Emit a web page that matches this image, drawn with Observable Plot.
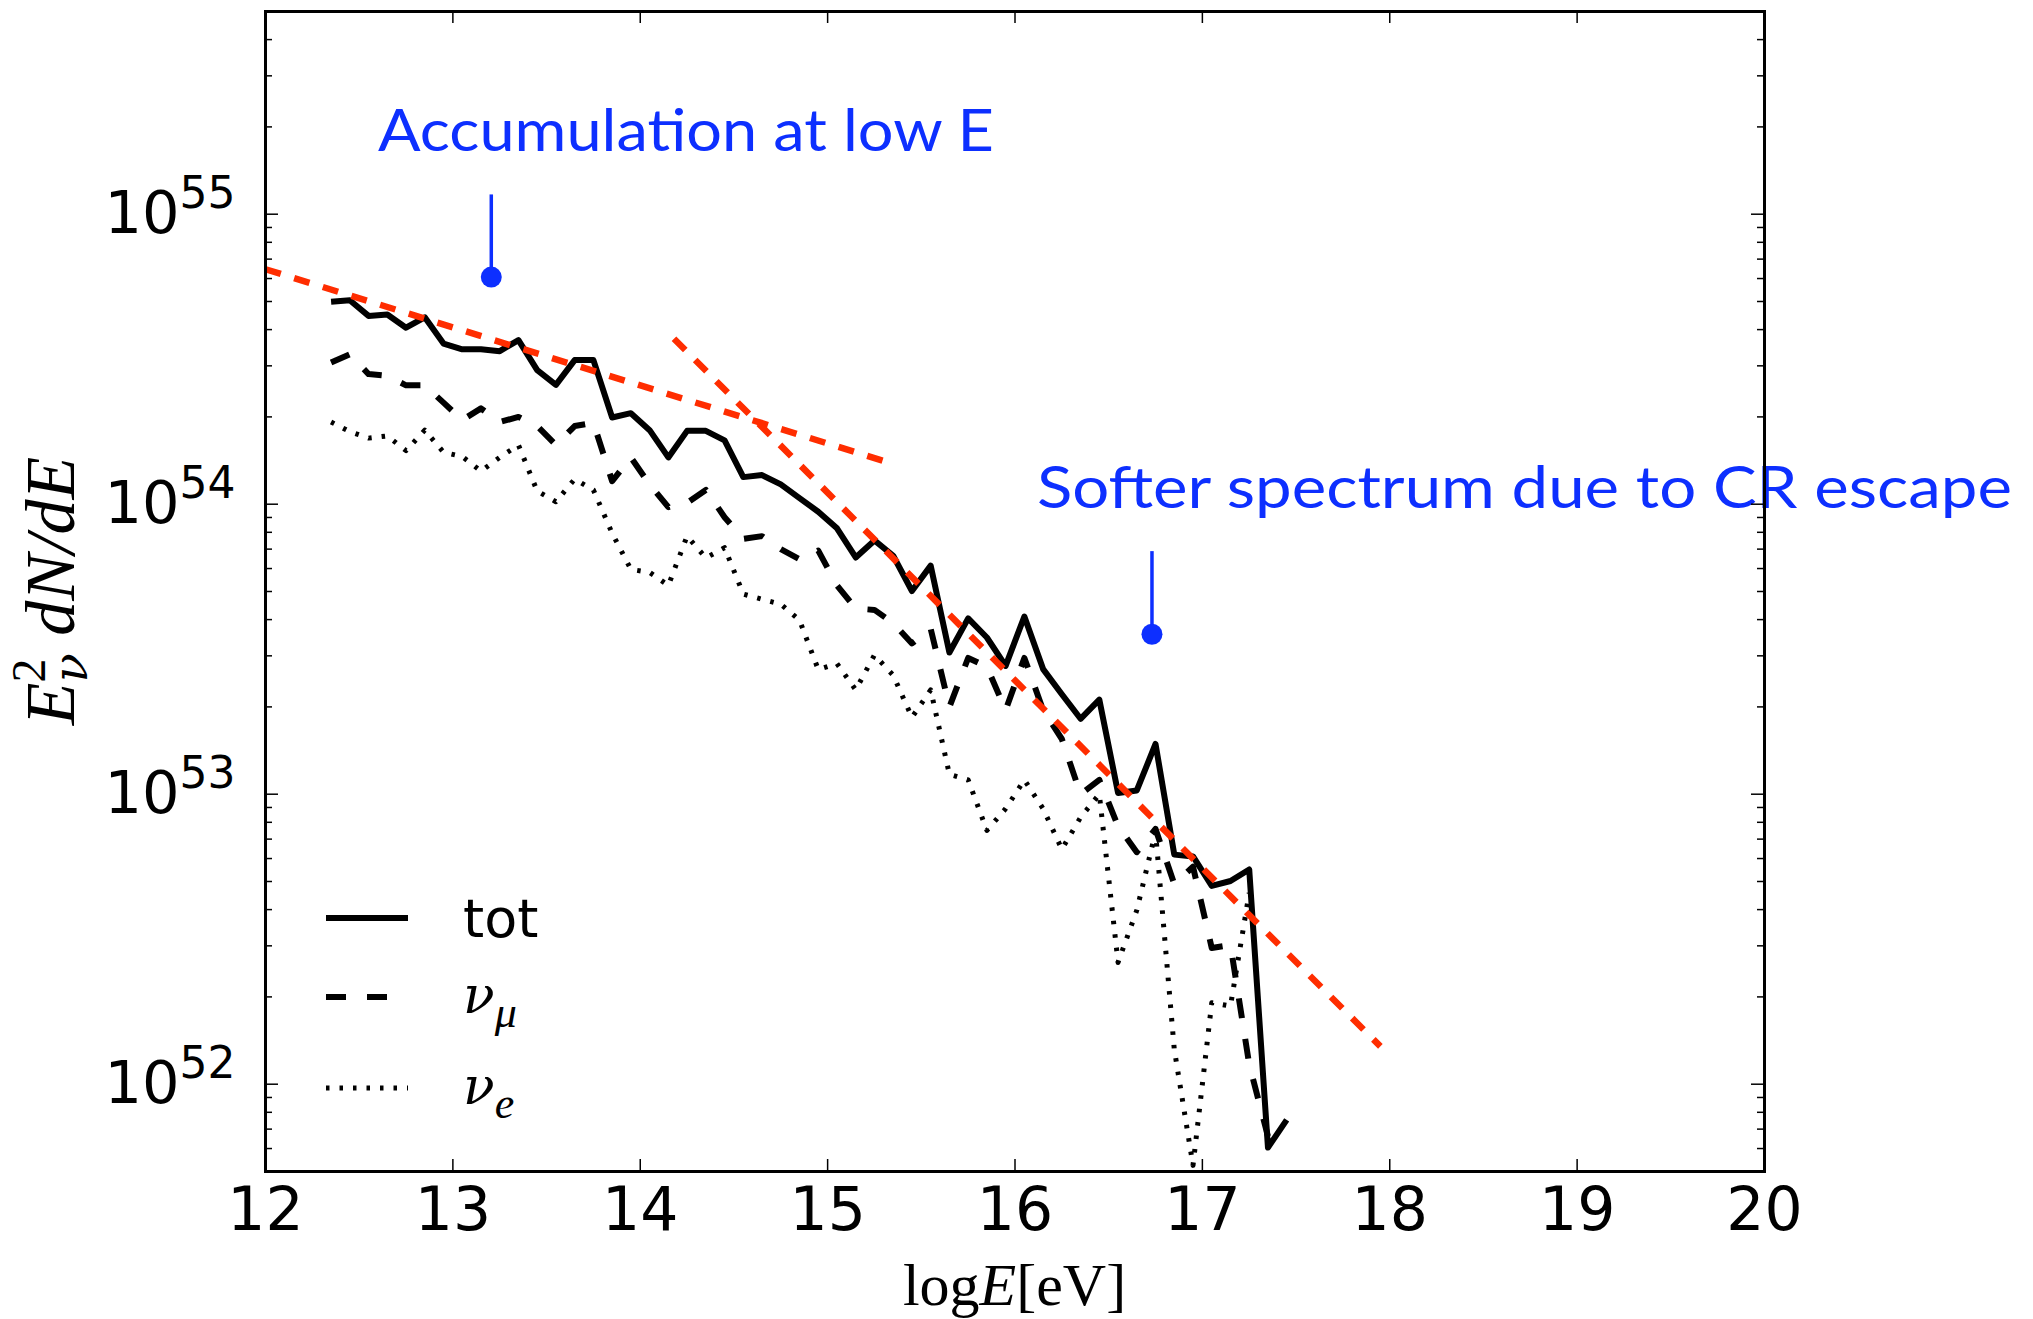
<!DOCTYPE html>
<html>
<head>
<meta charset="utf-8">
<script src="https://cdn.jsdelivr.net/npm/d3@7"></script>
<script src="https://cdn.jsdelivr.net/npm/@observablehq/plot@0.6"></script>
<style>
html, body { margin: 0; padding: 0; background: #fff; }
</style>
</head>
<body>
<div id="chart"></div>
<script>
// ---------- data ----------
const logE_tot = [12.35,12.45,12.55,12.65,12.75,12.85,12.95,13.05,13.15,13.25,13.35,13.45,13.55,13.65,13.75,13.85,13.95,14.05,14.15,14.25,14.35,14.45,14.55,14.65,14.75,14.85,14.95,15.05,15.15,15.25,15.35,15.45,15.55,15.65,15.75,15.85,15.95,16.05,16.15,16.25,16.35,16.45,16.55,16.65,16.75,16.85,16.95,17.05,17.15,17.25,17.35,17.45];
const tot = [4.99e54,5.05e54,4.46e54,4.51e54,4.06e54,4.41e54,3.58e54,3.42e54,3.42e54,3.37e54,
             3.68e54,2.90e54,2.58e54,3.14e54,3.14e54,1.99e54,2.06e54,1.80e54,1.45e54,1.79e54,
             1.79e54,1.66e54,1.24e54,1.26e54,1.17e54,1.05e54,9.42e53,8.26e53,6.55e53,7.50e53,
             6.64e53,5.02e53,6.14e53,3.08e53,4.04e53,3.47e53,2.77e53,4.10e53,2.70e53,2.21e53,
             1.82e53,2.12e53,1.01e53,1.03e53,1.49e53,6.19e52,6.10e52,4.83e52,5.02e52,5.50e52,
             6.05e51,7.53e51];

const logE_numu = [12.35,12.45,12.55,12.65,12.75,12.85,12.95,13.05,13.15,13.25,13.35,13.45,13.55,13.65,13.75,13.85,13.95,14.05,14.15,14.25,14.35,14.45,14.55,14.65,14.75,14.85,14.95,15.05,15.15,15.25,15.35,15.45,15.55,15.65,15.75,15.85,15.95,16.05,16.15,16.25,16.35,16.45,16.55,16.65,16.75,16.85,16.95,17.05,17.15,17.25,17.35];
const numu = [3.08e54,3.29e54,2.81e54,2.77e54,2.57e54,2.57e54,2.24e54,1.95e54,2.14e54,1.92e54,
              2.00e54,1.86e54,1.60e54,1.86e54,1.91e54,1.20e54,1.45e54,1.17e54,9.77e53,1.01e54,
              1.12e54,9.02e53,7.59e53,7.76e53,7.00e53,6.46e53,6.92e53,5.25e53,4.37e53,4.32e53,
              3.89e53,3.31e53,3.72e53,2.00e53,2.95e53,2.75e53,1.95e53,2.95e53,1.95e53,1.55e53,
              1.00e53,1.12e53,7.76e52,6.31e52,7.59e52,4.90e52,5.62e52,2.95e52,3.02e52,1.17e52,
              6.61e51];

const logE_nue = [12.35,12.45,12.55,12.65,12.75,12.85,12.95,13.05,13.15,13.25,13.35,13.45,13.55,13.65,13.75,13.85,13.95,14.05,14.15,14.25,14.35,14.45,14.55,14.65,14.75,14.85,14.95,15.05,15.15,15.25,15.35,15.45,15.55,15.65,15.75,15.85,15.95,16.05,16.15,16.25,16.35,16.45,16.55,16.65,16.75,16.85,16.95,17.05,17.15,17.25];
const nue = [1.92e54,1.78e54,1.69e54,1.72e54,1.53e54,1.80e54,1.51e54,1.46e54,1.30e54,1.45e54,
             1.60e54,1.11e54,1.02e54,1.22e54,1.12e54,7.94e53,5.96e53,5.82e53,5.25e53,7.76e53,
             6.53e53,7.08e53,4.90e53,4.70e53,4.52e53,3.98e53,2.69e53,2.82e53,2.29e53,3.02e53,
             2.57e53,1.84e53,2.29e53,1.17e53,1.12e53,7.50e52,8.91e52,1.12e53,8.91e52,6.46e52,
             8.32e52,1.00e53,2.63e52,3.98e52,7.41e52,1.32e52,5.25e51,1.91e52,1.86e52,4.57e52];

// red power-law guide lines
const fitLow_logE = [12.0, 15.3];
const fitLow = [6.46e54, 1.41e54];
const fitHigh_logE = [14.18, 17.95];
const fitHigh = [3.72e54, 1.35e52];

// ticks
const xTicks = [12,13,14,15,16,17,18,19,20];
const xTickLabels = ["12","13","14","15","16","17","18","19","20"];
const yMajorTicks = [1e52,1e53,1e54,1e55];
const yTickExponents = ["52","53","54","55"];
const yMinorTicks = [5e51,6e51,7e51,8e51,9e51,
                     2e52,3e52,4e52,5e52,6e52,7e52,8e52,9e52,
                     2e53,3e53,4e53,5e53,6e53,7e53,8e53,9e53,
                     2e54,3e54,4e54,5e54,6e54,7e54,8e54,9e54,
                     2e55,3e55,4e55,5e55];

// annotations
const annotTexts = ["Accumulation at low E", "Softer spectrum due to CR escape"];
const annotTextX = [12.6, 16.117];
const annotTextY = [1.92e55, 1.12e54];
const annotTextWidth = [616, 975];
const arrowX = [13.205, 16.731];
const arrowTop = [1.17e55, 6.89e53];
const arrowDot = [6.07e54, 3.56e53];

// legend
const legendNames = ["tot", "ν", "ν"];
const legendSubs = ["", "μ", "e"];

// ---------- build ----------
const W = 2033, H = 1319;
const mL = 265, mR = 269, mT = 11, mB = 148;
const FW = W - mL - mR, FH = H - mT - mB;
const BLUE = "#0d2fff", RED = "#ff2d00";
const DASH = {tot: null, numu: "20,21", nue: "3.5,10"};

const toRows = (xs, ys) => ys.map((v, i) => ({x: xs[i], y: v}));
const annots = annotTexts.map((t, i) => ({text: t, x: annotTextX[i], y: annotTextY[i]}));
const arrows = arrowX.map((x, i) => ({x, top: arrowTop[i], dot: arrowDot[i]}));

const chart = Plot.plot({
  width: W, height: H,
  marginLeft: mL, marginRight: mR, marginTop: mT, marginBottom: mB,
  style: {fontFamily: "DejaVu Sans", background: "white", color: "black"},
  x: {domain: [12, 20]},
  y: {type: "log", domain: [5e51, 5e55]},
  marks: [
    Plot.line(toRows(logE_nue, nue), {x: "x", y: "y", stroke: "black", strokeWidth: 5, strokeDasharray: DASH.nue, strokeLinecap: "butt", clip: true}),
    Plot.line(toRows(logE_numu, numu), {x: "x", y: "y", stroke: "black", strokeWidth: 6, strokeDasharray: DASH.numu, strokeLinecap: "butt", clip: true}),
    Plot.line(toRows(logE_tot, tot), {x: "x", y: "y", stroke: "black", strokeWidth: 6, strokeLinecap: "butt", clip: true}),
    Plot.line(toRows(fitLow_logE, fitLow), {x: "x", y: "y", stroke: RED, strokeWidth: 6.5, strokeDasharray: "16,14", strokeLinecap: "butt"}),
    Plot.line(toRows(fitHigh_logE, fitHigh), {x: "x", y: "y", stroke: RED, strokeWidth: 6.5, strokeDasharray: "16,14", strokeLinecap: "butt"}),
    Plot.link(arrows, {x1: "x", x2: "x", y1: "top", y2: "dot", stroke: BLUE, strokeWidth: 3.5}),
    Plot.dot(arrows, {x: "x", y: "dot", r: 10.5, fill: BLUE, stroke: "none"}),
    Plot.text(annots, {x: "x", y: "y", text: "text", textAnchor: "start", lineAnchor: "middle", fill: BLUE, fontSize: 58, fontFamily: "Lato"}),
    // inward ticks on all four sides
    Plot.tickY(yMajorTicks, {y: d => d, stroke: "black", strokeWidth: 1.5, insetRight: FW - 13}),
    Plot.tickY(yMajorTicks, {y: d => d, stroke: "black", strokeWidth: 1.5, insetLeft: FW - 13}),
    Plot.tickY(yMinorTicks, {y: d => d, stroke: "black", strokeWidth: 1.5, insetRight: FW - 7}),
    Plot.tickY(yMinorTicks, {y: d => d, stroke: "black", strokeWidth: 1.5, insetLeft: FW - 7}),
    Plot.tickX(xTicks, {x: d => d, stroke: "black", strokeWidth: 1.5, insetTop: FH - 12}),
    Plot.tickX(xTicks, {x: d => d, stroke: "black", strokeWidth: 1.5, insetBottom: FH - 12}),
    Plot.axisX({ticks: xTicks, tickFormat: d => xTickLabels[xTicks.indexOf(d)], tickSize: 0, tickPadding: 16, fontSize: 60, label: null}),
    Plot.axisY({ticks: yMajorTicks, tickFormat: d => "10^" + yTickExponents[yMajorTicks.indexOf(d)], tickSize: 0, tickPadding: 30, fontSize: 59, label: null}),
    Plot.frame({stroke: "black", strokeWidth: 3})
  ]
});

document.getElementById("chart").appendChild(chart);

// ---------- post-processing: math-style text ----------
const svg = d3.select(chart);
svg.selectAll("text").each(function() {
  const t = d3.select(this);
  const s = t.text();
  const m = /^10\^(\d+)$/.exec(s);
  if (m) {
    t.text("10");
    t.append("tspan").attr("dy", -25).attr("font-size", 44).text(m[1]);
  }
  const k = annotTexts.indexOf(s);
  if (k >= 0) {
    t.attr("textLength", annotTextWidth[k]).attr("lengthAdjust", "spacingAndGlyphs");
  }
});

// x-axis label: log E [eV]
const xl = svg.append("text")
  .attr("x", mL + FW / 2).attr("y", 1305)
  .attr("text-anchor", "middle")
  .attr("font-family", "Liberation Serif").attr("font-size", 60).attr("fill", "black");
xl.append("tspan").text("log");
xl.append("tspan").attr("font-style", "italic").text("E");
xl.append("tspan").text("[eV]");

// y-axis label: E_ν^2 dN/dE
const yl = svg.append("text")
  .attr("transform", `translate(74,${mT + FH / 2}) rotate(-90)`)
  .attr("text-anchor", "middle")
  .attr("font-family", "Liberation Serif").attr("font-style", "italic")
  .attr("font-size", 70).attr("fill", "black");
yl.append("tspan").text("E");
yl.append("tspan").attr("font-size", 48).attr("font-style", "normal").attr("dy", -29).text("2");
yl.append("tspan").attr("font-size", 48).attr("font-family", "DejaVu Serif").attr("dx", -24).attr("dy", 42).text("ν");
yl.append("tspan").attr("dy", -13).text(" dN/dE");

// legend (inside frame, lower left)
const leg = svg.append("g").attr("class", "legend").attr("text-anchor", "start");
const legRows = [
  {y: 918, dash: DASH.tot, w: 6},
  {y: 997, dash: DASH.numu, w: 6},
  {y: 1088, dash: DASH.nue, w: 5}
];
legRows.forEach((r, i) => {
  const ln = leg.append("line")
    .attr("x1", 326).attr("x2", 408).attr("y1", r.y).attr("y2", r.y)
    .attr("stroke", "black").attr("stroke-width", r.w).attr("stroke-linecap", "butt");
  if (r.dash) ln.attr("stroke-dasharray", r.dash);
  if (i === 0) {
    leg.append("text").attr("x", 463).attr("y", r.y + 19).attr("text-anchor", "start")
      .attr("font-family", "DejaVu Sans").attr("font-size", 54).attr("fill", "black")
      .text(legendNames[i]);
  } else {
    const tx = leg.append("text").attr("x", 463).attr("y", r.y + 16).attr("text-anchor", "start")
      .attr("font-family", "DejaVu Serif").attr("font-style", "italic")
      .attr("font-size", 52).attr("fill", "black");
    tx.append("tspan").text(legendNames[i]);
    tx.append("tspan").attr("font-family", "Liberation Serif").attr("font-size", 44).attr("dy", 14).text(legendSubs[i]);
  }
});
// bring frame to front
svg.selectAll('[aria-label="frame"]').raise();
</script>
</body>
</html>
